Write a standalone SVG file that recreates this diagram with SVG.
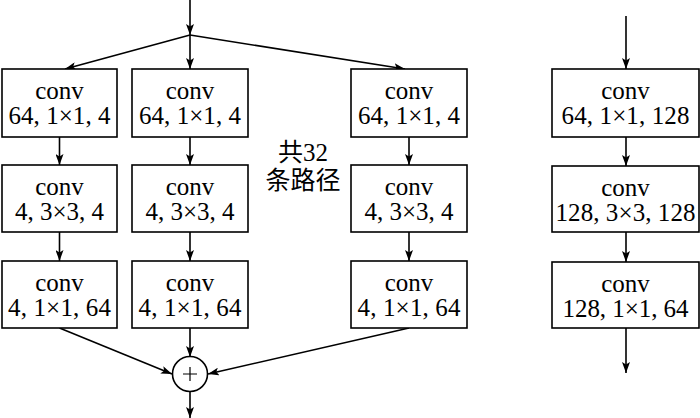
<svg xmlns="http://www.w3.org/2000/svg" width="700" height="418" viewBox="0 0 700 418">
<defs>
<marker id="ah" markerUnits="userSpaceOnUse" markerWidth="12" markerHeight="8" refX="11" refY="4" orient="auto">
<path d="M0,0 L11,4 L0,8 L2.5,4 z" fill="#000"/>
</marker>
<style>
.box{fill:#fff;stroke:#000;stroke-width:1.6}
.t{font-family:"Liberation Serif","Noto Sans CJK SC",serif;font-size:25px;text-anchor:middle;fill:#000}
.c{stroke:#000;stroke-width:1.6;fill:none}
.a{marker-end:url(#ah)}
</style>
</defs>
<rect width="700" height="418" fill="#fff"/>
<g id="connectors">
<line class="c a" x1="190" y1="0" x2="190" y2="35"/>
<line class="c a" x1="190" y1="35" x2="65" y2="69"/>
<line class="c a" x1="190" y1="35" x2="190" y2="69"/>
<line class="c a" x1="190" y1="35" x2="405" y2="69"/>
<line class="c a" x1="59.5" y1="137" x2="59.5" y2="165"/>
<line class="c a" x1="190" y1="137" x2="190" y2="165"/>
<line class="c a" x1="409" y1="137" x2="409" y2="165"/>
<line class="c a" x1="59.5" y1="232" x2="59.5" y2="261"/>
<line class="c a" x1="190" y1="232" x2="190" y2="261"/>
<line class="c a" x1="409" y1="232" x2="409" y2="261"/>
<line class="c a" x1="59.5" y1="328" x2="172" y2="374"/>
<line class="c a" x1="190" y1="328" x2="190" y2="357"/>
<line class="c a" x1="409" y1="328" x2="208" y2="374"/>
<line class="c a" x1="190" y1="391" x2="190" y2="418"/>
<line class="c a" x1="626" y1="16" x2="626" y2="69"/>
<line class="c a" x1="626" y1="137" x2="626" y2="166"/>
<line class="c a" x1="626" y1="232" x2="626" y2="262"/>
<line class="c a" x1="626" y1="328" x2="626" y2="373"/>
</g>
<g id="c1r1"><rect class="box" x="2" y="69" width="115" height="68"/><text class="t" x="59.5" y="99">conv</text><text class="t" x="59.5" y="124" textLength="102" lengthAdjust="spacing">64, 1×1, 4</text></g>
<g id="c2r1"><rect class="box" x="132" y="69" width="116" height="68"/><text class="t" x="190" y="99">conv</text><text class="t" x="190" y="124" textLength="102" lengthAdjust="spacing">64, 1×1, 4</text></g>
<g id="c3r1"><rect class="box" x="351" y="69" width="116" height="68"/><text class="t" x="409" y="99">conv</text><text class="t" x="409" y="124" textLength="102" lengthAdjust="spacing">64, 1×1, 4</text></g>
<g id="c1r2"><rect class="box" x="2" y="165" width="115" height="67"/><text class="t" x="59.5" y="195">conv</text><text class="t" x="59.5" y="220" textLength="89" lengthAdjust="spacing">4, 3×3, 4</text></g>
<g id="c2r2"><rect class="box" x="132" y="165" width="116" height="67"/><text class="t" x="190" y="195">conv</text><text class="t" x="190" y="220" textLength="89" lengthAdjust="spacing">4, 3×3, 4</text></g>
<g id="c3r2"><rect class="box" x="351" y="165" width="116" height="67"/><text class="t" x="409" y="195">conv</text><text class="t" x="409" y="220" textLength="89" lengthAdjust="spacing">4, 3×3, 4</text></g>
<g id="c1r3"><rect class="box" x="2" y="261" width="115" height="67"/><text class="t" x="59.5" y="291">conv</text><text class="t" x="59.5" y="316" textLength="103" lengthAdjust="spacing">4, 1×1, 64</text></g>
<g id="c2r3"><rect class="box" x="132" y="261" width="116" height="67"/><text class="t" x="190" y="291">conv</text><text class="t" x="190" y="316" textLength="103" lengthAdjust="spacing">4, 1×1, 64</text></g>
<g id="c3r3"><rect class="box" x="351" y="261" width="116" height="67"/><text class="t" x="409" y="291">conv</text><text class="t" x="409" y="316" textLength="103" lengthAdjust="spacing">4, 1×1, 64</text></g>
<g id="r1"><rect class="box" x="552" y="69" width="147" height="68"/><text class="t" x="625.5" y="99">conv</text><text class="t" x="625.5" y="124" textLength="128" lengthAdjust="spacing">64, 1×1, 128</text></g>
<g id="r2"><rect class="box" x="552" y="166" width="147" height="66"/><text class="t" x="625.5" y="196">conv</text><text class="t" x="625.5" y="221" textLength="140" lengthAdjust="spacing">128, 3×3, 128</text></g>
<g id="r3"><rect class="box" x="552" y="262" width="147" height="66"/><text class="t" x="625.5" y="292">conv</text><text class="t" x="625.5" y="317" textLength="126" lengthAdjust="spacing">128, 1×1, 64</text></g>
<g id="sum"><circle cx="190" cy="374" r="17.5" fill="#fff" stroke="#000" stroke-width="1.6"/><path d="M183,374 H197 M190,367 V381" stroke="#000" stroke-width="1.2"/></g>
<g id="label"><text class="t" x="303" y="161">共32</text><text class="t" x="303" y="189">条路径</text></g>
</svg>
